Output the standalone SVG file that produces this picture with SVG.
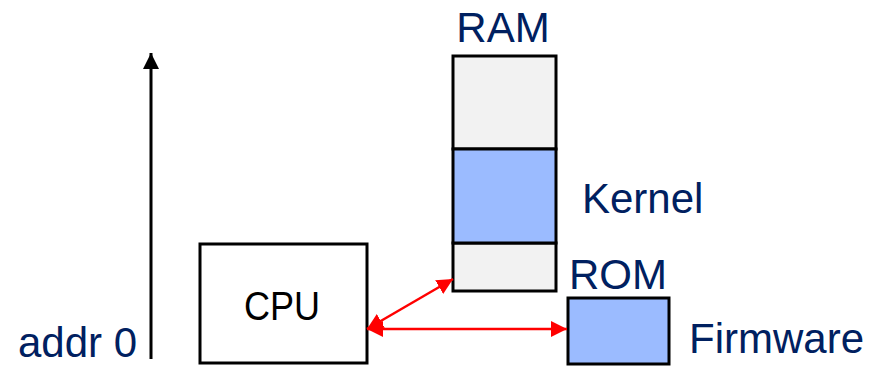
<svg xmlns="http://www.w3.org/2000/svg" width="874" height="367" viewBox="0 0 874 367">
  <style>
    .lbl { font-family: "Liberation Sans", Arial, sans-serif; font-size: 42px; fill: #002060; }
    .box { stroke: #000; stroke-width: 3; }
    .grey { fill: #f2f2f2; }
    .blue { fill: #9bbbff; }
    .red { stroke: #ff0000; stroke-width: 2.5; fill: none; }
  </style>
  <defs>
    <marker id="ah" viewBox="0 0 16 16" refX="16" refY="8" markerWidth="16" markerHeight="16" markerUnits="userSpaceOnUse" orient="auto-start-reverse">
      <path d="M0,0 L16,8 L0,16 z" fill="#ff0000"/>
    </marker>
    <marker id="bk" viewBox="0 0 16 16" refX="16" refY="8" markerWidth="16" markerHeight="16" markerUnits="userSpaceOnUse" orient="auto">
      <path d="M0,0 L16,8 L0,16 z" fill="#000"/>
    </marker>
  </defs>

  <g id="axis">
    <line x1="151" y1="359" x2="151" y2="53" stroke="#000" stroke-width="3" marker-end="url(#bk)"/>
    <text class="lbl" x="18" y="357">addr 0</text>
  </g>

  <g id="cpu">
    <rect class="box" x="200" y="244" width="167" height="119" fill="#fff"/>
    <text x="282" y="320" text-anchor="middle" font-family="'Liberation Sans', Arial, sans-serif" font-size="40" fill="#000" textLength="76" lengthAdjust="spacingAndGlyphs">CPU</text>
  </g>

  <g id="ram">
    <text class="lbl" x="503" y="42" text-anchor="middle">RAM</text>
    <rect class="box grey" x="453" y="56" width="103" height="93"/>
    <rect class="box grey" x="453" y="243" width="103" height="48"/>
  </g>

  <g id="kernel">
    <rect class="box blue" x="453" y="149" width="103" height="94"/>
    <text class="lbl" x="582" y="213">Kernel</text>
  </g>

  <g id="rom">
    <text class="lbl" x="618" y="289" text-anchor="middle">ROM</text>
    <rect class="box blue" x="568" y="298" width="101" height="66"/>
    <text class="lbl" x="689" y="353">Firmware</text>
  </g>

  <g id="connectors">
    <line class="red" x1="367" y1="329" x2="453" y2="279" marker-start="url(#ah)" marker-end="url(#ah)"/>
    <line class="red" x1="367" y1="329" x2="567" y2="329" marker-start="url(#ah)" marker-end="url(#ah)"/>
  </g>
</svg>
